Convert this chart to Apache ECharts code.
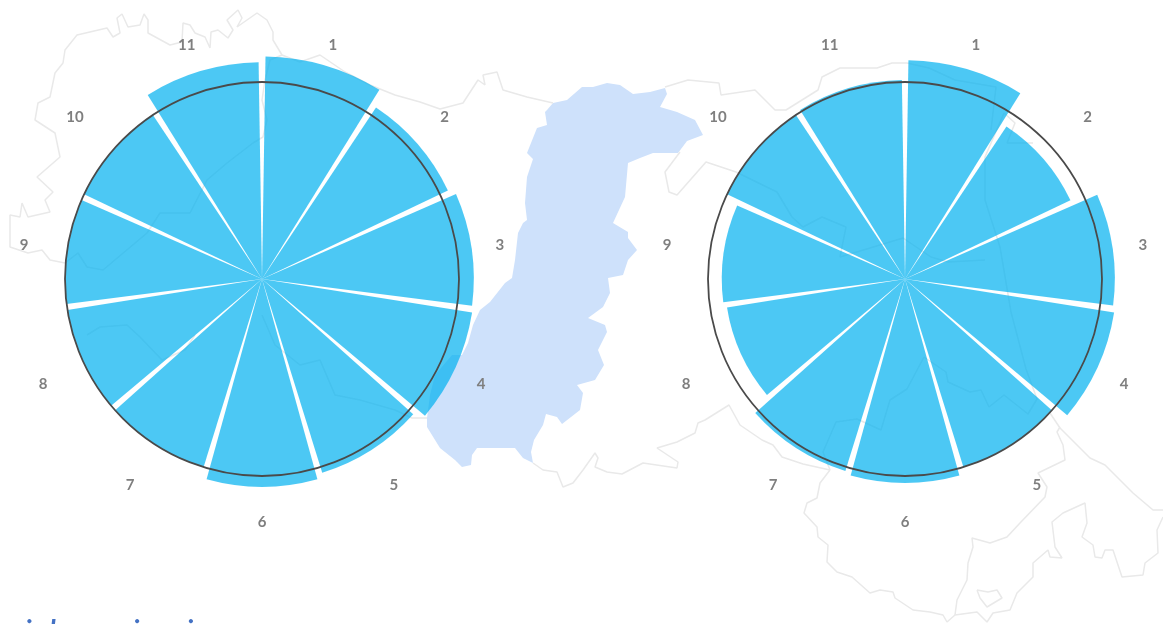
<!DOCTYPE html>
<html><head><meta charset="utf-8">
<script src="https://cdn.jsdelivr.net/npm/echarts@6/dist/echarts.min.js"></script>
<style>html,body{margin:0;padding:0;background:#fff}#c{width:1163px;height:624px}</style>
</head><body><div id="c"></div>
<script>
const months=['1','2','3','4','5','6','7','8','9','10','11'];
const leftValues=[1.13,1.045,1.075,1.08,1.03,1.055,1,1,1,1,1.10];
const rightValues=[1.11,0.93,1.065,1.075,1,1.035,1.02,0.915,0.93,1,1.01];
const footerText='i   l             i        i';

const basinFill=[[547,110],[553,103],[567,100],[582,87],[593,87],[607,83],[620,85],[633,94],[650,92],[665,88],[667,94],[660,107],[677,112],[695,120],[703,135],[687,141],[678,153],[653,153],[640,158],[628,163],[625,197],[613,223],[628,232],[628,238],[637,250],[628,260],[623,275],[608,278],[610,293],[603,307],[588,318],[605,325],[607,332],[598,350],[604,365],[595,380],[577,385],[583,393],[580,410],[562,424],[557,417],[546,414],[543,425],[534,440],[531,452],[533,463],[523,458],[515,448],[477,448],[472,455],[471,465],[462,467],[455,460],[440,448],[427,427],[427,418],[430,395],[435,375],[452,355],[462,355],[468,343],[473,325],[480,310],[490,302],[505,283],[512,278],[515,260],[518,233],[523,223],[527,220],[525,203],[527,177],[533,159],[527,153],[537,128],[547,125],[545,112]];
const outlineNW=[[65,263],[50,260],[42,250],[28,253],[10,247],[10,215],[20,217],[22,203],[28,217],[50,212],[45,200],[53,192],[37,177],[60,157],[55,133],[35,120],[38,103],[50,97],[55,73],[63,63],[65,50],[77,35],[107,28],[113,37],[120,33],[117,18],[122,14],[128,27],[140,25],[144,14],[148,20],[148,33],[170,45],[182,42],[183,23],[190,25],[195,33],[205,37],[210,48],[211,32],[218,30],[228,38],[233,30],[227,20],[238,10],[242,18],[237,27],[257,13],[267,20],[273,32],[273,40],[282,55],[300,62],[320,55],[345,72],[370,85],[395,95],[420,102],[440,109],[463,103],[478,80],[485,85],[483,75],[497,72],[503,90],[527,97],[553,103]];
const outlineNWInner=[[65,263],[78,253],[87,267],[103,270],[147,233],[160,213],[190,213],[207,180],[227,163],[253,143],[263,137],[267,120],[262,100],[265,80],[270,60],[282,55]];
const outlineSW=[[87,335],[100,327],[127,325],[140,337],[162,360],[185,350],[195,335]];
const outlineMid=[[262,315],[275,345],[300,365],[320,360],[335,395],[360,400],[395,410],[412,418],[427,418]];
const outlineS=[[533,463],[543,470],[557,472],[563,487],[573,483],[583,470],[595,453],[598,458],[595,467],[607,472],[622,474],[643,463],[677,468],[678,462],[657,448],[677,442],[695,433],[698,423],[705,420],[729,405],[740,425],[762,440],[773,445],[782,457],[803,464],[830,470]];
const outlineSE=[[830,470],[820,483],[817,498],[807,503],[804,513],[817,527],[818,537],[828,545],[827,562],[837,572],[852,577],[870,593],[880,590],[893,592],[895,598],[913,610],[930,612],[943,615],[947,622],[955,615],[977,612],[987,622],[993,613],[1010,610],[1017,593],[1033,577],[1033,563],[1048,550],[1050,557],[1062,558],[1055,547],[1052,522],[1063,513],[1085,503],[1087,523],[1082,537],[1093,545],[1095,557],[1102,558],[1105,550],[1113,550],[1122,577],[1143,575],[1145,563],[1158,553],[1157,530],[1163,517]];
const outlineCoast=[[1050,413],[1060,428],[1090,458],[1105,465],[1133,493],[1153,510],[1163,510]];
const outlineInnerSE=[[955,615],[957,600],[967,580],[968,563],[973,547],[972,538],[990,543],[1007,537],[1020,523],[1045,497],[1047,487],[1038,473],[1065,460],[1063,445],[1057,432],[1060,427]];
const outlineIsland=[[977,590],[980,598],[987,607],[1002,598],[997,590],[988,592],[977,590]];
const outlineRightUnder=[[924,357],[907,389],[890,400],[881,430],[857,419],[836,422],[823,452],[830,470]];
const outlineRightUnder2=[[924,357],[946,372],[948,382],[970,392],[981,390],[989,407],[1004,395],[1028,414],[1037,399],[1026,369],[1011,312],[1000,247],[985,200],[985,157],[1004,113],[1015,123],[1007,143],[1033,143]];
const outlineNE=[[665,87],[688,80],[719,83],[721,95],[755,90],[775,110],[786,110],[818,90],[822,77],[840,68],[877,68],[892,63],[907,63],[929,68],[955,80],[996,87],[991,130]];
const outlineE=[[680,152],[665,172],[669,192],[677,195],[706,162],[736,172],[777,192],[792,217],[803,227],[822,217],[846,227],[840,257],[870,248],[903,238],[931,257],[948,262],[985,260]];

const outlines=[outlineNW,outlineNWInner,outlineSW,outlineMid,outlineS,outlineSE,outlineCoast,outlineInnerSE,outlineIsland,outlineRightUnder,outlineRightUnder2,outlineNE,outlineE];

const chart=echarts.init(document.getElementById('c'),null,{renderer:'canvas'});
const angleAxisOf=i=>({
  polarIndex:i,type:'category',data:months,startAngle:90,z:5,
  axisLine:{show:true,lineStyle:{color:'#4a4a4a',width:1.8}},
  axisTick:{show:false},splitLine:{show:false},
  axisLabel:{margin:39,align:'center',verticalAlign:'middle',color:'#7f7f7f',fontFamily:'Lato',fontWeight:'bold',fontSize:15}
});
const radiusAxisOf=i=>({polarIndex:i,type:'value',min:0,max:1,show:false,axisLine:{show:false},axisLabel:{show:false},axisTick:{show:false},splitLine:{show:false}});
const barsOf=(i,values)=>({
  type:'bar',coordinateSystem:'polar',polarIndex:i,data:values,clip:false,z:3,
  barCategoryGap:'5.5%',silent:true,itemStyle:{color:'rgba(0,176,240,0.7)'}
});
chart.setOption({
  animation:false,backgroundColor:'#ffffff',tooltip:{show:false},
  grid:{left:0,right:0,top:0,bottom:0},
  xAxis:{type:'value',min:0,max:1163,show:false},
  yAxis:{type:'value',min:0,max:624,inverse:true,show:false},
  polar:[{center:[262,279],radius:197},{center:[905,279],radius:197}],
  angleAxis:[angleAxisOf(0),angleAxisOf(1)],
  radiusAxis:[radiusAxisOf(0),radiusAxisOf(1)],
  graphic:[{type:'text',left:25,top:617,z:10,style:{text:footerText,fill:'#4472c4',font:'italic bold 27px Lato'}}],
  series:[
    {type:'custom',coordinateSystem:'cartesian2d',silent:true,z:1,data:[[0,0]],clip:false,
     renderItem:(p,api)=>p.dataIndex===0?({type:'polygon',shape:{points:basinFill.map(q=>api.coord(q))},style:{fill:'#cee1fb'}}):null},
    ...outlines.map(o=>({type:'line',coordinateSystem:'cartesian2d',data:o,silent:true,z:1,showSymbol:false,symbol:'none',
      lineStyle:{color:'#e9e9e9',width:1.5}})),
    barsOf(0,leftValues),barsOf(1,rightValues)
  ]
});
</script></body></html>
